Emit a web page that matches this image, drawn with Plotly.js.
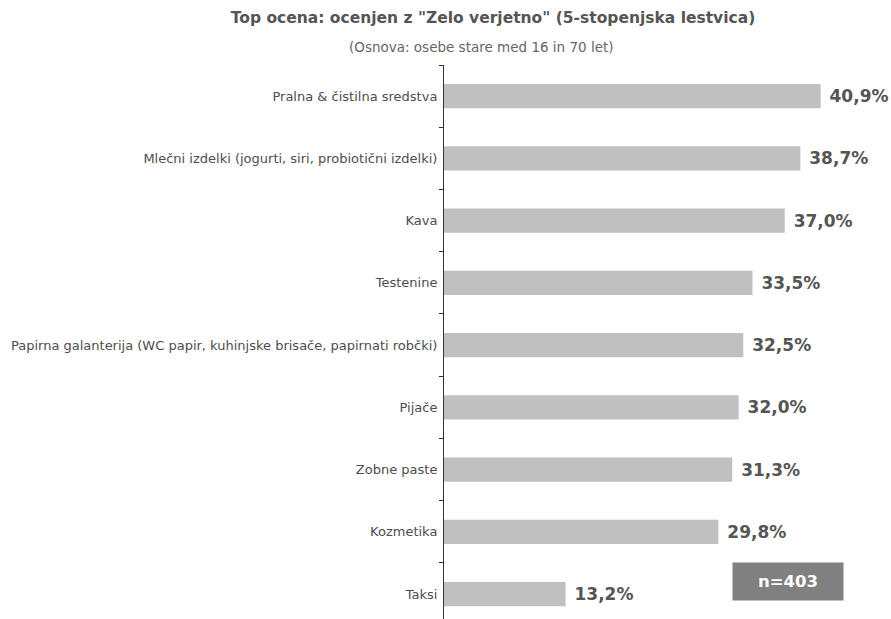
<!DOCTYPE html>
<html>
<head>
<meta charset="utf-8">
<script src="https://cdn.plot.ly/plotly-3.0.1.min.js"></script>
<style>html,body{margin:0;padding:0;background:#fff;}#chart{width:891px;height:619px;}</style>
</head>
<body>
<div id="chart"></div>
<script>
const categories = [
  "Pralna &amp; čistilna sredstva",
  "Mlečni izdelki (jogurti, siri, probiotični izdelki)",
  "Kava",
  "Testenine",
  "Papirna galanterija (WC papir, kuhinjske brisače, papirnati robčki)",
  "Pijače",
  "Zobne paste",
  "Kozmetika",
  "Taksi"
];
const values = [40.9, 38.7, 37.0, 33.5, 32.5, 32.0, 31.3, 29.8, 13.2];
const titleText = 'Top ocena: ocenjen z "Zelo verjetno" (5-stopenjska lestvica)';
const subtitleText = '(Osnova: osebe stare med 16 in 70 let)';
const sampleText = 'n=403';

const trace = {
  type: 'bar',
  orientation: 'h',
  y: categories,
  x: values,
  marker: {color: '#c0c0c0'},
  texttemplate: '\u00a0%{x:.1f}%',
  textposition: 'outside',
  cliponaxis: false,
  textfont: {family: 'DejaVu Sans', size: 17, color: '#555555', weight: 'bold'},
  hoverinfo: 'none'
};

const layout = {
  width: 891, height: 619,
  margin: {l: 444, r: 5, t: 65, b: 0},
  paper_bgcolor: '#ffffff', plot_bgcolor: '#ffffff',
  separators: ', ',
  bargap: 0.61,
  showlegend: false,
  title: {
    text: titleText,
    font: {family: 'DejaVu Sans', size: 15.5, color: '#555555', weight: 'bold'},
    xref: 'container', x: 493/891, xanchor: 'center',
    yref: 'container', y: 1 - 18/619, yanchor: 'middle'
  },
  xaxis: {
    range: [0, 48], visible: false, showgrid: false, zeroline: false, fixedrange: true
  },
  yaxis: {
    type: 'category',
    categoryorder: 'array', categoryarray: categories,
    range: [8.4, -0.5],
    showline: true, linecolor: '#333333', linewidth: 1,
    ticks: 'outside', ticklen: 4, tickcolor: '#333333', tickson: 'boundaries',
    ticklabelstandoff: 3,
    tickfont: {family: 'DejaVu Sans', size: 13, color: '#4d4d4d'},
    showgrid: false, zeroline: false, fixedrange: true
  },
  annotations: [
    {
      text: subtitleText, showarrow: false,
      xref: 'paper', yref: 'paper',
      x: (481 - 444) / (891 - 444 - 5), y: 1 + (65 - 47) / 554,
      xanchor: 'center', yanchor: 'middle',
      font: {family: 'DejaVu Sans', size: 13.5, color: '#666666'}
    },
    {
      text: '<b>' + sampleText + '</b>', showarrow: false,
      xref: 'paper', yref: 'paper',
      x: (788 - 444) / (891 - 444 - 5), y: 1 - (581 - 65) / 554,
      xanchor: 'center', yanchor: 'middle',
      width: 106, height: 33,
      bgcolor: '#808080', borderpad: 2,
      font: {family: 'DejaVu Sans', size: 16.5, color: '#ffffff'}
    }
  ]
};

Plotly.newPlot('chart', [trace], layout, {staticPlot: true, displayModeBar: false});
</script>
</body>
</html>
